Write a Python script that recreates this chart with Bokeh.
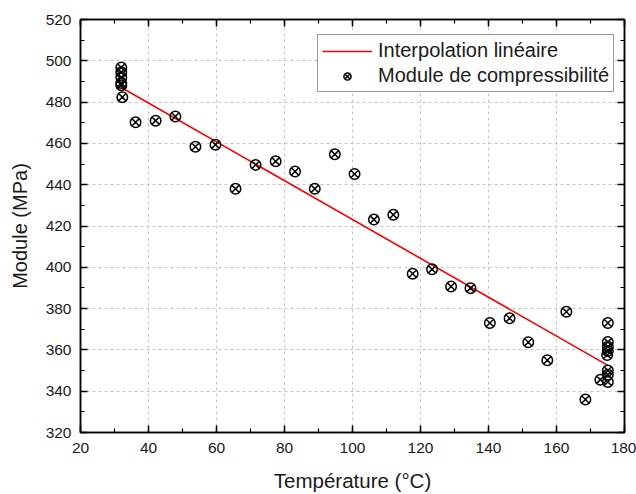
from bokeh.plotting import figure
from bokeh.models import (ColumnDataSource, LinearAxis, Legend, LegendItem,
                          SingleIntervalTicker, Range1d)
from bokeh.embed import file_html
from bokeh.resources import INLINE

# ---- data ----
temperature = [32.0, 32.0, 32.0, 32.0, 32.0, 32.3, 36.2, 42.1, 47.9, 53.8,
               59.7, 65.6, 71.5, 77.4, 83.1, 88.9, 94.8, 100.6, 106.3, 112.0,
               117.7, 123.4, 129.0, 134.7, 140.4, 146.2, 151.7, 157.3, 162.9,
               168.5, 172.9, 175.1, 175.1, 175.1, 175.1, 174.9, 175.1, 175.1,
               175.1]
module = [496.8, 494.4, 492.0, 489.2, 488.2, 482.4, 470.2, 471.0, 473.0, 458.4,
          459.4, 438.0, 449.6, 451.3, 446.4, 438.0, 454.7, 445.2, 423.1, 425.4,
          396.9, 399.0, 390.7, 389.9, 373.0, 375.3, 363.7, 355.0, 378.5,
          336.0, 345.6, 373.0, 363.8, 361.5, 359.5, 357.5, 350.0, 348.0,
          344.5]
interp_temperature = [32.0, 175.1]
interp_module = [487.1, 352.5]

x_range_vals = [20, 180]
y_range_vals = [320, 520]

FONT = "Liberation Sans"
TXT = "#1a1a1a"

p = figure(width=636, height=494, output_backend="svg", toolbar_location=None,
           x_range=Range1d(*x_range_vals), y_range=Range1d(*y_range_vals),
           min_border_left=80, min_border_right=12, min_border_top=19,
           min_border_bottom=62, x_axis_location=None, y_axis_location=None)
p.background_fill_color = "white"
p.border_fill_color = "white"
p.outline_line_color = "black"
p.outline_line_width = 1.5

xt = SingleIntervalTicker(interval=20, num_minor_ticks=2)
yt = SingleIntervalTicker(interval=20, num_minor_ticks=2)


def style_axis(ax, labels=True):
    ax.axis_line_color = "black"
    ax.axis_line_width = 1.5
    ax.major_tick_line_color = "black"
    ax.major_tick_line_width = 1.5
    ax.minor_tick_line_color = "black"
    ax.minor_tick_line_width = 1.2
    ax.major_tick_in = 7
    ax.major_tick_out = 0
    ax.minor_tick_in = 4
    ax.minor_tick_out = 0
    if labels:
        ax.major_label_text_font = FONT
        ax.major_label_text_font_size = "15.5px"
        ax.major_label_text_color = TXT
        ax.axis_label_text_font = FONT
        ax.axis_label_text_font_size = "20px"
        ax.axis_label_text_font_style = "normal"
        ax.axis_label_text_color = TXT
    else:
        ax.major_label_text_font_size = "0px"
        ax.major_label_text_color = None
        ax.major_label_standoff = 0


xb = LinearAxis(ticker=xt, axis_label="Température (°C)")
style_axis(xb)
xb.axis_label_text_font_size = "20.5px"
xb.major_label_standoff = 10
xb.axis_label_standoff = 13
p.add_layout(xb, "below")

yl = LinearAxis(ticker=yt, axis_label="Module (MPa)")
style_axis(yl)
yl.major_label_standoff = 9
yl.axis_label_standoff = 12
p.add_layout(yl, "left")

xa = LinearAxis(ticker=xt)
style_axis(xa, labels=False)
p.add_layout(xa, "above")

yr = LinearAxis(ticker=yt)
style_axis(yr, labels=False)
p.add_layout(yr, "right")

p.xgrid.ticker = xt
p.ygrid.ticker = yt
for g in (p.xgrid, p.ygrid):
    g.grid_line_color = "#c4c4c4"
    g.grid_line_dash = "3 3"
    g.grid_line_width = 1

line_src = ColumnDataSource(dict(x=interp_temperature, y=interp_module))
line_r = p.line("x", "y", source=line_src, line_color="#ff0000", line_width=1.6)

pts_src = ColumnDataSource(dict(x=temperature, y=module))
pts_r = p.scatter("x", "y", source=pts_src, marker="circle_x", size=10.5,
                  fill_color=None, line_color="black", line_width=1.5)

legend = Legend(items=[LegendItem(label="Interpolation linéaire", renderers=[line_r]),
                       LegendItem(label="Module de compressibilité", renderers=[pts_r])],
                location=(237, 340))
legend.label_text_font = FONT
legend.label_text_font_size = "20px"
legend.label_text_color = TXT
legend.border_line_color = "#333333"
legend.border_line_width = 1
legend.background_fill_color = "white"
legend.background_fill_alpha = 1
legend.padding = 4
legend.spacing = 2
legend.margin = 0
legend.glyph_width = 50
legend.glyph_height = 18
legend.label_height = 18
legend.label_standoff = 6
p.add_layout(legend)

open("out.html", "w").write(file_html(p, INLINE))
